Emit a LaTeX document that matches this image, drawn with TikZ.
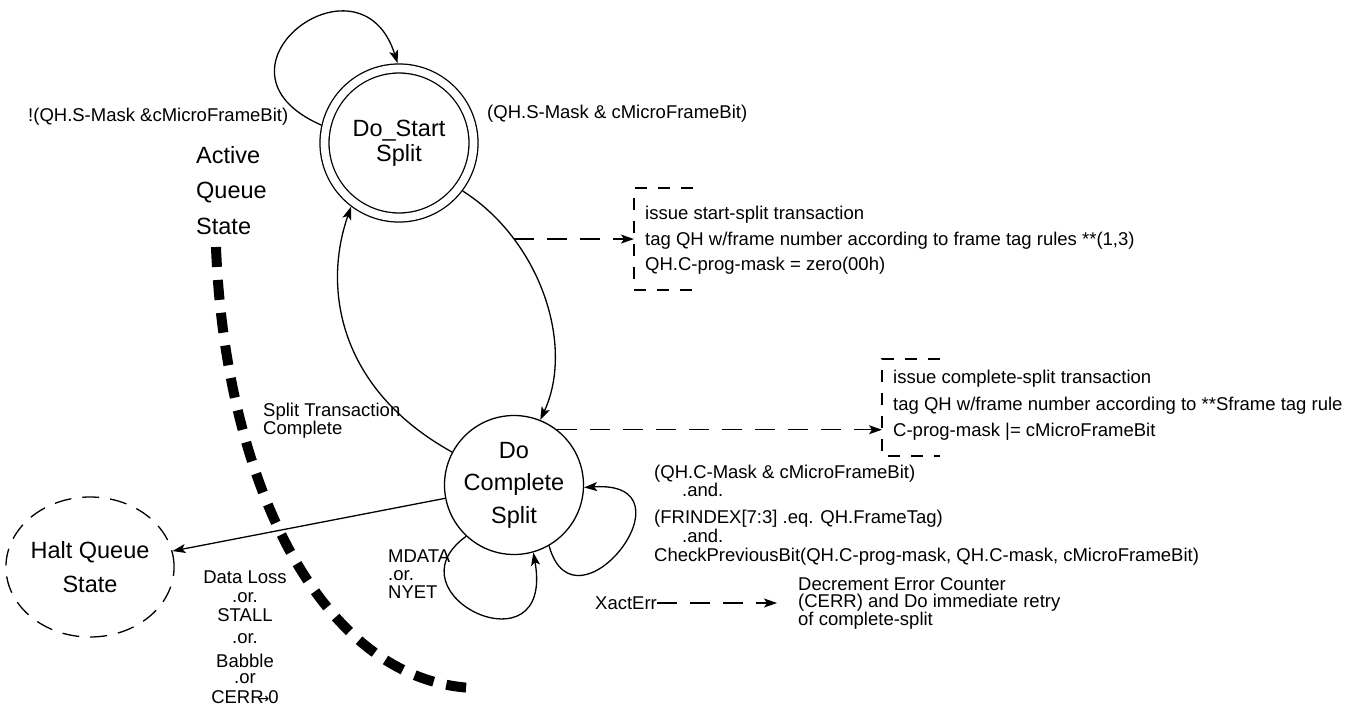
\documentclass[tikz,border=0pt]{standalone}
\usepackage{fontspec}
\setmainfont{Liberation Sans}
\newfontfamily\symfont{DejaVu Sans}
\usetikzlibrary{arrows.meta, positioning, calc, shapes.geometric}
\newcommand\lblfont{\fontsize{18.5}{19}\selectfont}
\newcommand\statefont{\fontsize{23.5}{25}\selectfont}

\begin{document}
\begin{tikzpicture}[x=1pt, y=-1pt,
  arr/.style={-{Stealth[length=13pt,width=9pt,inset=3pt]}, line width=1.3pt},
  state/.style={circle, draw, line width=1.3pt, inner sep=0pt, align=center},
  lbl/.style={font=\lblfont, inner sep=0pt},
  dasharr/.style={arr, dash pattern=on 20pt off 13pt},
  boxline/.style={line width=1.5pt, dash pattern=on 12pt off 11pt},
  activeline/.style={line width=10pt, dash pattern=on 20pt off 13pt}]
  \useasboundingbox (0,0) rectangle (1349,706);

  % states
  \node[state, double, double distance=7.7pt, minimum size=149pt, outer sep=5.2pt,
        font=\statefont] (dostart) at (399,143) {Do\_Start\\Split};
  \node[state, minimum size=139pt, font=\fontsize{23.5}{32.5}\selectfont]
        (docmpl) at (514,485) {Do\\Complete\\Split};
  \node[draw, ellipse, line width=1.3pt, dash pattern=on 17pt off 11pt, minimum width=154pt,
        minimum height=140pt, inner sep=0pt, align=center,
        font=\fontsize{23.5}{34}\selectfont] (halt) at (90,567) {Halt Queue\\State};

  % boundary of the active queue state
  \draw[activeline] (216,247) .. controls (225,480) and (320,680) .. (472,688);
  \node[lbl, anchor=north west, align=left, font=\fontsize{23.5}{35.5}\selectfont]
        (active) at (196,146) {Active\\Queue\\State};

  % transitions
  \draw[arr] (dostart.167) .. controls (195,70) and (360,-55) .. (dostart.91);
  \draw[arr] (dostart.-37) .. controls (540,240) and (575,345) .. (docmpl.68)
        coordinate[pos=0.26] (tap);
  \draw[arr] (docmpl.152) .. controls (340,390) and (322,290) .. (dostart.233);
  \draw[arr] (docmpl) -- (halt);
  \draw[arr] (docmpl.227) .. controls (385,595) and (555,675) .. (docmpl.286);
  \draw[arr] (docmpl.300) .. controls (575,640) and (700,480) .. (docmpl.358);

  \node[lbl, anchor=west] (notmask) at (28,117) {!(QH.S-Mask \&cMicroFrameBit)};
  \node[lbl, anchor=west] (smask) at (487,114) {(QH.S-Mask \& cMicroFrameBit)};
  \node[lbl, anchor=north west, align=left, font=\fontsize{18.5}{17}\selectfont]
        (splitdone) at (263,403) {Split Transaction\\Complete};
  \node[lbl, anchor=north west, align=left, font=\fontsize{18.5}{18}\selectfont]
        (mdata) at (388,550) {MDATA\\.or.\\NYET};
  \node[lbl, anchor=north, align=center] (dataloss) at (245,571)
        {Data Loss\\.or.\\STALL\\[3pt].or.\\[5pt]Babble\\[-3pt].or\\[1pt]
         CERR\kern-6pt{\symfont\fontsize{14}{14}\selectfont →}\kern-1pt0};
  \node[lbl, anchor=north west, align=left] (cmask) at (654,465)
        {(QH.C-Mask \& cMicroFrameBit)\\[-1pt]
         \hspace*{28pt}.and.\\[8pt]
         (FRINDEX[7:3] .eq. QH.FrameTag)\\
         \hspace*{28pt}.and.\\
         CheckPreviousBit(QH.C-prog-mask, QH.C-mask, cMicroFrameBit)};

  % actions
  \coordinate (b1top) at (634,188);
  \coordinate (b1bot) at (634,290);
  \draw[boxline] ($(b1top)+(59,0)$) -- (b1top) -- (b1bot) -- ++(59,0);
  \node[lbl, anchor=north west, align=left, font=\fontsize{18.5}{25.5}\selectfont]
        (startact) at (645,206) {issue start-split transaction\\
         tag QH w/frame number according to frame tag rules **(1,3)\\
         QH.C-prog-mask = zero(00h)};
  \draw[dasharr] (tap) -- (tap -| b1top);

  \coordinate (b2top) at (882,359);
  \coordinate (b2bot) at (882,456);
  \draw[boxline] ($(b2top)+(58,0)$) -- (b2top) -- (b2bot) -- ++(58,0);
  \node[lbl, anchor=north west, align=left, font=\fontsize{18.5}{26.5}\selectfont]
        (cmplact) at (893,370) {issue complete-split transaction\\
         tag QH w/frame number according to **Sframe tag rule\\
         C-prog-mask |= cMicroFrameBit};
  \draw[dasharr] (docmpl.52) -- (docmpl.52 -| b2top);

  \node[lbl, anchor=west] (xact) at (595,603) {XactErr};
  \node[lbl, anchor=north west, align=left, font=\fontsize{18.5}{17.5}\selectfont]
        (retry) at (798,577) {Decrement Error Counter\\
         (CERR) and Do immediate retry\\of complete-split};
  \draw[dasharr, shorten >=21pt] (xact.east) -- (xact.east -| retry.west);
\end{tikzpicture}
\end{document}
